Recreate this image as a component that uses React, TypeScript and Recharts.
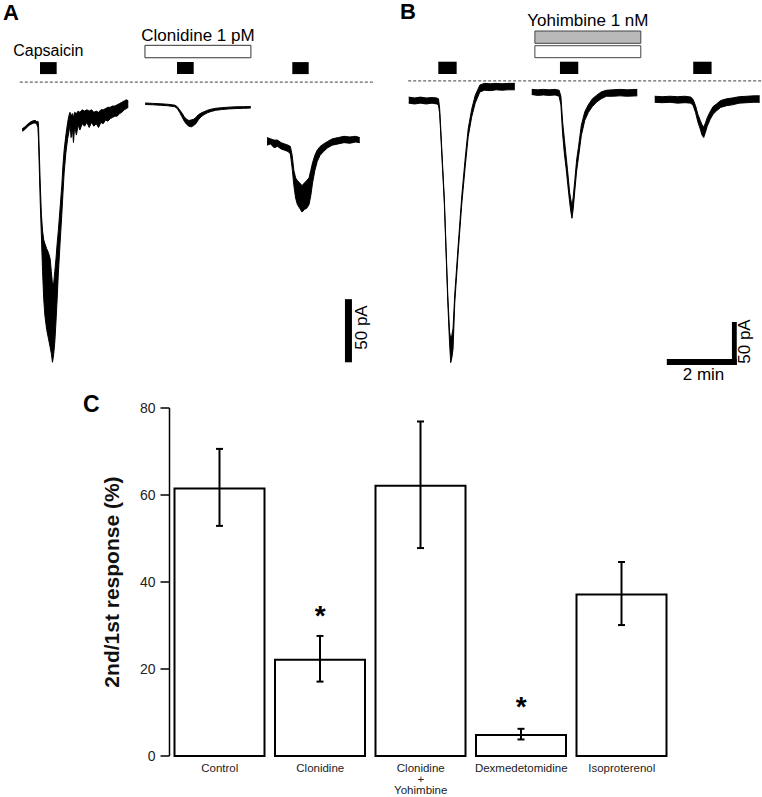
import React from 'react';
import {
  ComposedChart,
  Area,
  Bar,
  ErrorBar,
  XAxis,
  YAxis,
  ReferenceArea,
  ReferenceLine,
  ReferenceDot,
} from 'recharts';

const FONT = '"Liberation Sans", Arial, Helvetica, sans-serif';

// ---------- Panel A: current traces [time (s), lower envelope (pA), upper envelope (pA)] ----------
const traceA1: number[][] = [
  [38, -39, -37], [43, -37.5, -35.5], [47, -35.5, -33.5], [51, -34, -32], [55, -33, -31],
  [58, -32.5, -30.5], [61, -32.5, -30.5], [63, -33.5, -31.5], [65, -36, -31], [66, -45, -33],
  [67, -62, -50], [69, -95, -80], [71, -122, -105], [73, -150, -118], [75, -172, -125],
  [77, -185, -128], [80, -196, -132], [83, -203, -135], [86, -210, -140], [88, -215, -150],
  [90, -222, -160], [92, -216, -160], [94, -206, -150], [96, -190, -140], [98, -172, -128],
  [100, -152, -118], [103, -128, -100], [106, -105, -82], [108, -88, -66], [110, -72, -54],
  [113, -56, -42], [116, -45, -32], [118, -40, -27], [120, -34, -24], [122, -44, -27],
  [124, -36, -25], [126, -48, -28], [128, -35, -24], [131, -42, -25], [134, -34, -23],
  [137, -38, -24], [141, -33, -22], [145, -35, -23], [149, -32, -22], [153, -36, -23],
  [157, -32, -22], [161, -35, -24], [165, -33, -23], [169, -36, -24], [173, -32, -22],
  [177, -33, -22], [181, -30, -21], [185, -31, -20], [189, -29, -20], [193, -28, -19],
  [197, -27, -19], [201, -27, -18], [205, -25, -17], [209, -24, -16], [213, -22, -15],
  [217, -21, -14], [220, -20, -15],
];
const traceA2: number[][] = [
  [249, -17.8, -16.6], [262, -18.0, -16.9], [275, -18.4, -17.2], [288, -18.8, -17.6],
  [300, -19.6, -18.3], [304, -21.0, -19.5], [308, -24.0, -22.0], [312, -27.5, -24.5],
  [316, -31.0, -27.5], [320, -33.5, -29.5], [324, -35.0, -30.5], [328, -35.5, -30.0],
  [332, -34.5, -29.5], [336, -33.0, -28.0], [340, -30.0, -26.0], [345, -27.5, -24.5],
  [350, -25.8, -23.5], [356, -24.3, -22.3], [362, -23.3, -21.5], [370, -22.4, -20.8],
  [380, -21.8, -20.3], [392, -21.3, -19.9], [405, -21.0, -19.6], [418, -20.8, -19.5],
  [430, -20.6, -19.4],
];
const traceA3: number[][] = [
  [458, -50, -44], [464, -49, -45], [470, -52, -46], [476, -51, -46], [482, -53, -48],
  [488, -54, -49], [494, -55, -50], [498, -57, -51], [501, -68, -58], [504, -82, -70],
  [507, -92, -76], [510, -97, -78], [514, -100, -80], [518, -103, -82], [522, -101, -80],
  [526, -100, -78], [530, -97, -76], [533, -90, -70], [536, -80, -64], [540, -70, -58],
  [544, -63, -54], [549, -58, -51], [555, -55, -49], [562, -52, -47], [570, -50, -45],
  [580, -49, -44], [590, -48, -43], [600, -48.5, -43.5], [610, -47.5, -43], [617, -48, -44],
];

// ---------- Panel B: current traces ----------
const traceB1: number[][] = [
  [15, -26, -19], [25, -27, -20], [35, -26, -19], [45, -27, -20], [55, -26, -19.5],
  [63, -27, -20], [66, -28, -21], [68, -38, -32], [70, -63, -57], [73, -103, -97],
  [76, -142, -136], [79, -200, -194], [82, -258, -250], [85, -305, -292], [87, -328, -300],
  [89, -322, -296], [91, -312, -288], [94, -258, -248], [100, -198, -190], [106, -143, -134],
  [112, -99, -89], [117, -65, -56], [123, -42, -33], [129, -26, -17], [137, -13, -5],
  [145, -11, -3], [155, -11.5, -3.5], [165, -10.5, -3], [175, -11, -3.5], [185, -10.5, -3],
  [197, -10.5, -3],
];
const traceB2: number[][] = [
  [226, -16, -10], [236, -17, -10.5], [246, -16.5, -10], [256, -17, -10.5], [266, -16.5, -10],
  [273, -18, -11], [276, -28, -18], [279, -62, -48], [282, -85, -68], [285, -102, -88],
  [288, -122, -108], [291, -141, -130], [293, -152, -138], [295, -160, -146], [297, -150, -136],
  [300, -127, -115], [303, -105, -92], [306, -90, -78], [311, -64, -52], [317, -46, -36],
  [323, -37, -28], [330, -30, -21], [337, -25, -17], [345, -21, -13], [354, -18, -11],
  [365, -18, -10.5], [377, -17.5, -10], [390, -18, -10.5], [407, -17.5, -10],
];
const traceB3: number[][] = [
  [437, -25, -18], [450, -25.5, -18.5], [463, -25, -18], [476, -26, -18.5], [489, -25.5, -18],
  [499, -26, -19], [503, -29, -22], [507, -37, -29], [511, -48, -39], [515, -56, -46],
  [518, -63, -51], [521, -66, -54], [524, -60, -49], [527, -53, -43], [532, -45, -36],
  [537, -39, -30], [543, -35, -27], [550, -31, -23], [560, -29, -21], [570, -28, -20],
  [582, -26, -18.5], [595, -25.5, -18], [607, -25, -17.5], [617, -25, -17.5],
];

// drug application periods (s)
const capsaicinA: number[][] = [[68.6, 97.2], [303.6, 332.2], [501.3, 529.4]];
const clonidineA: number[] = [248.6, 430.3];
const capsaicinB: number[][] = [[65.7, 97.2], [274.4, 305.8], [503, 534.5]];
const yohimbineB: number[] = [231.4, 413.1];
const clonidineB: number[] = [231.4, 413.1];

// ---------- Panel C ----------
const categories: string[] = ['Control', 'Clonidine', 'Clonidine + Yohimbine', 'Dexmedetomidine', 'Isoproterenol'];
const ratios: number[] = [61.5, 22.1, 62.1, 4.8, 37.1];
const errMinus: number[] = [8.6, 5.0, 14.3, 1.0, 7.0];
const errPlus: number[] = [9.1, 5.5, 14.8, 1.45, 7.5];
const yTicks: number[] = [0, 20, 40, 60, 80];
const sigCategories: string[] = ['Clonidine', 'Dexmedetomidine'];
const sigLevels: number[] = [33.5, 12.6];

const buildRows = (traces: Record<string, number[][]>) => {
  const rows: any[] = [];
  Object.keys(traces).forEach((key) => {
    traces[key].forEach(([t, lo, hi]) => rows.push({ t, [key]: [lo, hi] }));
  });
  rows.sort((a, b) => a.t - b.t);
  return rows;
};

const rowsA = buildRows({ a1: traceA1, a2: traceA2, a3: traceA3 });
const rowsB = buildRows({ b1: traceB1, b2: traceB2, b3: traceB3 });
const barData = categories.map((name, i) => ({ name, ratio: ratios[i], err: [errMinus[i], errPlus[i]] }));

const traceProps = {
  type: 'linear' as const,
  stroke: '#000',
  strokeWidth: 1,
  fill: '#000',
  fillOpacity: 1,
  dot: false,
  activeDot: false,
  isAnimationActive: false,
  connectNulls: false,
};

const labelStyle = { fontSize: 17, fill: '#000', fontFamily: FONT };

const CatTick = (props: any) => {
  const { x, y, payload } = props;
  const lines = String(payload.value).split(' + ');
  const parts = lines.length > 1 ? [lines[0], '+', lines[1]] : lines;
  const offsets = [15.5, 27, 38];
  return (
    <g>
      {parts.map((s, i) => (
        <text key={i} x={x} y={y + offsets[i]} textAnchor="middle" fontSize={11.5} fill="#222" fontFamily={FONT}>
          {s}
        </text>
      ))}
    </g>
  );
};

const Star = (props: any) => {
  const vb = props.viewBox || {};
  const cx = (vb.x || 0) + (vb.width || 0) / 2;
  const cy = (vb.y || 0) + (vb.height || 0) / 2;
  return (
    <text x={cx} y={cy + 15} textAnchor="middle" fontSize={28} fontWeight="bold" fill="#000" fontFamily={FONT}>
      *
    </text>
  );
};

export default function App() {
  return (
    <div
      style={{
        position: 'absolute',
        left: 0,
        top: 0,
        width: 762,
        height: 797,
        background: '#fff',
        overflow: 'hidden',
        fontFamily: FONT,
      }}
    >
      {/* Panel A */}
      <div style={{ position: 'absolute', left: 0, top: 0 }}>
        <ComposedChart width={400} height={385} data={rowsA} margin={{ top: 0, right: 0, bottom: 0, left: 0 }}>
          <XAxis type="number" dataKey="t" domain={[0, 686]} hide allowDataOverflow />
          <YAxis type="number" domain={[-240, 65]} hide allowDataOverflow />
          <ReferenceLine segment={[{ x: 34, y: 0 }, { x: 643, y: 0 }]} stroke="#666" strokeWidth={1.2} strokeDasharray="3 2" />
          {capsaicinA.map(([x1, x2], i) => (
            <ReferenceArea
              key={i}
              x1={x1}
              x2={x2}
              y1={6.3}
              y2={15.8}
              fill="#000"
              fillOpacity={1}
              stroke="none"
              label={i === 0 ? { value: 'Capsaicin', position: 'top', offset: 6.5, ...labelStyle, fontSize: 16 } : undefined}
            />
          ))}
          <ReferenceArea
            x1={clonidineA[0]}
            x2={clonidineA[1]}
            y1={19.25}
            y2={29.1}
            fill="#fff"
            fillOpacity={1}
            stroke="#333"
            strokeWidth={1}
            label={{ value: 'Clonidine 1 pM', position: 'top', offset: 4.5, ...labelStyle }}
          />
          <ReferenceArea x1={591.6} x2={603.6} y1={-222} y2={-172} fill="#000" fillOpacity={1} stroke="none" />
          <Area dataKey="a1" {...traceProps} />
          <Area dataKey="a2" {...traceProps} />
          <Area dataKey="a3" {...traceProps} />
        </ComposedChart>
      </div>

      {/* Panel B */}
      <div style={{ position: 'absolute', left: 400, top: 0 }}>
        <ComposedChart width={362} height={385} data={rowsB} margin={{ top: 0, right: 0, bottom: 0, left: 0 }}>
          <XAxis type="number" dataKey="t" domain={[0, 621]} hide allowDataOverflow />
          <YAxis type="number" domain={[-354, 94]} hide allowDataOverflow />
          <ReferenceLine segment={[{ x: 14, y: 0 }, { x: 621, y: 0 }]} stroke="#666" strokeWidth={1.2} strokeDasharray="3 2" />
          {capsaicinB.map(([x1, x2], i) => (
            <ReferenceArea key={i} x1={x1} x2={x2} y1={7.9} y2={22.2} fill="#000" fillOpacity={1} stroke="none" />
          ))}
          <ReferenceArea
            x1={yohimbineB[0]}
            x2={yohimbineB[1]}
            y1={43.6}
            y2={57.9}
            fill="#b9b9b9"
            fillOpacity={1}
            stroke="#444"
            strokeWidth={1}
            label={{ value: 'Yohimbine 1 nM', position: 'top', offset: 5, ...labelStyle }}
          />
          <ReferenceArea
            x1={clonidineB[0]}
            x2={clonidineB[1]}
            y1={26.9}
            y2={40.8}
            fill="#fff"
            fillOpacity={1}
            stroke="#444"
            strokeWidth={1}
          />
          <ReferenceArea x1={457.7} x2={577.7} y1={-330.7} y2={-323.7} fill="#000" fillOpacity={1} stroke="none" />
          <ReferenceArea x1={569.4} x2={577.7} y1={-330.7} y2={-280.7} fill="#000" fillOpacity={1} stroke="none" />
          <Area dataKey="b1" {...traceProps} />
          <Area dataKey="b2" {...traceProps} />
          <Area dataKey="b3" {...traceProps} />
        </ComposedChart>
      </div>

      {/* Panel C */}
      <div style={{ position: 'absolute', left: 0, top: 385 }}>
        <ComposedChart width={762} height={412} data={barData} margin={{ top: 23, right: 90, bottom: 0, left: 0 }}>
          <XAxis
            dataKey="name"
            axisLine={false}
            tickLine={false}
            tickSize={0}
            tickMargin={0}
            height={41}
            interval={0}
            tick={<CatTick />}
          />
          <YAxis
            type="number"
            domain={[0, 80]}
            ticks={yTicks}
            width={169.5}
            tickSize={9}
            tickMargin={5}
            axisLine={{ stroke: '#000', strokeWidth: 1.5 }}
            tickLine={{ stroke: '#000', strokeWidth: 1.5 }}
            tick={{ fontSize: 14, fill: '#222', fontFamily: FONT }}
            label={{
              value: '2nd/1st response (%)',
              angle: -90,
              position: 'insideLeft',
              offset: 112,
              style: { textAnchor: 'middle' },
              fontSize: 21,
              fontWeight: 'bold',
              fill: '#111',
              fontFamily: FONT,
            }}
          />
          <Bar dataKey="ratio" barSize={90} fill="#fff" stroke="#000" strokeWidth={2} isAnimationActive={false}>
            <ErrorBar dataKey="err" direction="y" width={3.5} strokeWidth={2} stroke="#000" />
          </Bar>
          {sigCategories.map((c, i) => (
            <ReferenceDot key={c} x={c} y={sigLevels[i]} r={0} fill="none" stroke="none" label={<Star />} />
          ))}
        </ComposedChart>
      </div>

      {/* Panel letters and scale bar captions */}
      <svg width={762} height={797} style={{ position: 'absolute', left: 0, top: 0, pointerEvents: 'none' }}>
        <g fontFamily={FONT} fill="#000">
          <text x={3} y={20} fontSize={22} fontWeight="bold">A</text>
          <text x={400} y={19} fontSize={22} fontWeight="bold">B</text>
          <text x={83} y={412} fontSize={23} fontWeight="bold">C</text>
          <text x={367} y={327.5} fontSize={17} textAnchor="middle" transform="rotate(-90 367 327.5)">50 pA</text>
          <text x={749.5} y={341.5} fontSize={17} textAnchor="middle" transform="rotate(-90 749.5 341.5)">50 pA</text>
          <text x={703.5} y={380} fontSize={17} textAnchor="middle">2 min</text>
        </g>
      </svg>
    </div>
  );
}
